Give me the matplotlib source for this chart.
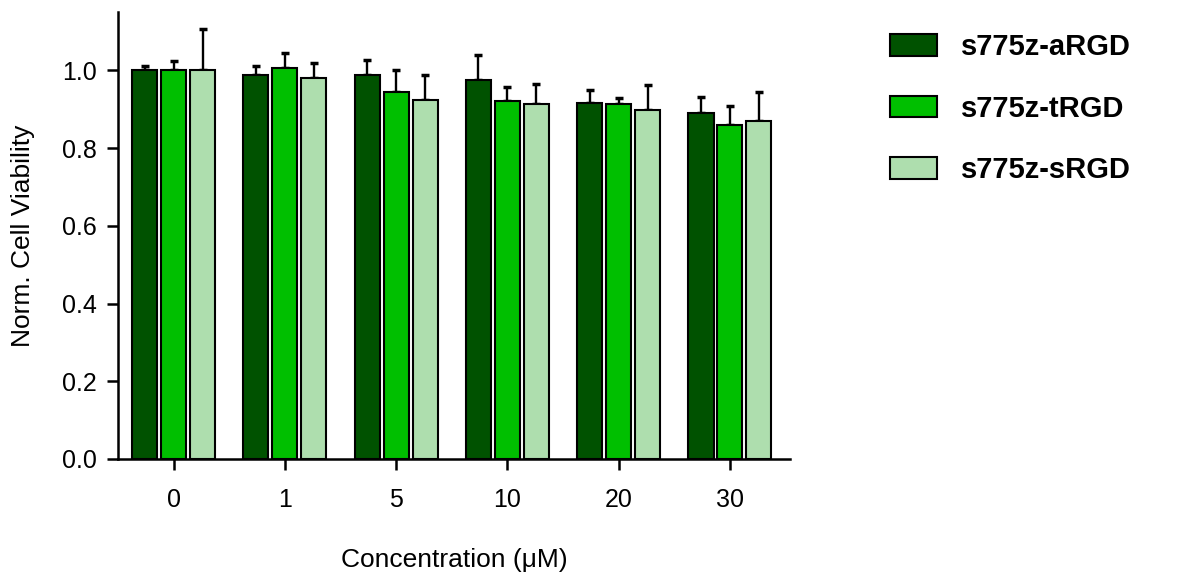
import matplotlib
matplotlib.use("Agg")
import matplotlib.pyplot as plt
import numpy as np

plt.rcParams['font.family'] = ['Liberation Sans', 'DejaVu Sans']

concentrations = ["0", "1", "5", "10", "20", "30"]
series_names = ["s775z-aRGD", "s775z-tRGD", "s775z-sRGD"]
colors = ["#005200", "#00BF00", "#AEDEAE"]

argd_mean = [1.000, 0.989, 0.987, 0.974, 0.917, 0.890]
argd_err = [0.012, 0.021, 0.039, 0.065, 0.032, 0.042]
trgd_mean = [1.000, 1.007, 0.944, 0.921, 0.913, 0.859]
trgd_err = [0.025, 0.037, 0.056, 0.037, 0.016, 0.050]
srgd_mean = [1.000, 0.979, 0.923, 0.913, 0.897, 0.869]
srgd_err = [0.105, 0.040, 0.066, 0.053, 0.066, 0.076]

means = [argd_mean, trgd_mean, srgd_mean]
errs = [argd_err, trgd_err, srgd_err]

fig = plt.figure(figsize=(11.8, 5.78), dpi=100)
ax = fig.add_axes([118 / 1180, 119 / 578, 672 / 1180, 447 / 578])

x = np.arange(len(concentrations))
width = 0.225
pitch = 0.26
for i in range(3):
    pos = x + (i - 1) * pitch
    err = np.array(errs[i])
    ax.bar(pos, means[i], width, color=colors[i], edgecolor="black",
           linewidth=1.5, label=series_names[i], zorder=3)
    # only the upper half of the error bar shows above the bar
    ax.errorbar(pos, means[i], yerr=[np.zeros_like(err), err], fmt="none",
                ecolor="black", elinewidth=1.7, capsize=3, capthick=2.5, zorder=2)

ax.set_xlim(-0.5, 5.54)
ax.set_ylim(0, 1.15)
ax.set_yticks([0.0, 0.2, 0.4, 0.6, 0.8, 1.0])
ax.set_yticklabels(["0.0", "0.2", "0.4", "0.6", "0.8", "1.0"])
ax.set_xticks(x)
ax.set_xticklabels(concentrations)

for side in ["top", "right"]:
    ax.spines[side].set_visible(False)
for side in ["left", "bottom"]:
    ax.spines[side].set_linewidth(1.8)

ax.tick_params(axis="y", direction="out", length=8, width=1.8, labelsize=18, pad=7)
ax.tick_params(axis="x", direction="out", length=8, width=1.8, labelsize=18, pad=13)

ax.set_ylabel("Norm. Cell Viability", fontsize=19, labelpad=20)
ax.set_xlabel("Concentration (\u03bcM)", fontsize=19, labelpad=26)

fig.legend(loc="upper left", bbox_to_anchor=(890 / 1180, 1 - 33 / 578),
           frameon=False, borderpad=0, borderaxespad=0,
           prop={"weight": "bold", "size": 21},
           handlelength=1.6, handleheight=0.75, handletextpad=0.85,
           labelspacing=1.15)

fig.savefig("out.png", dpi=100)
